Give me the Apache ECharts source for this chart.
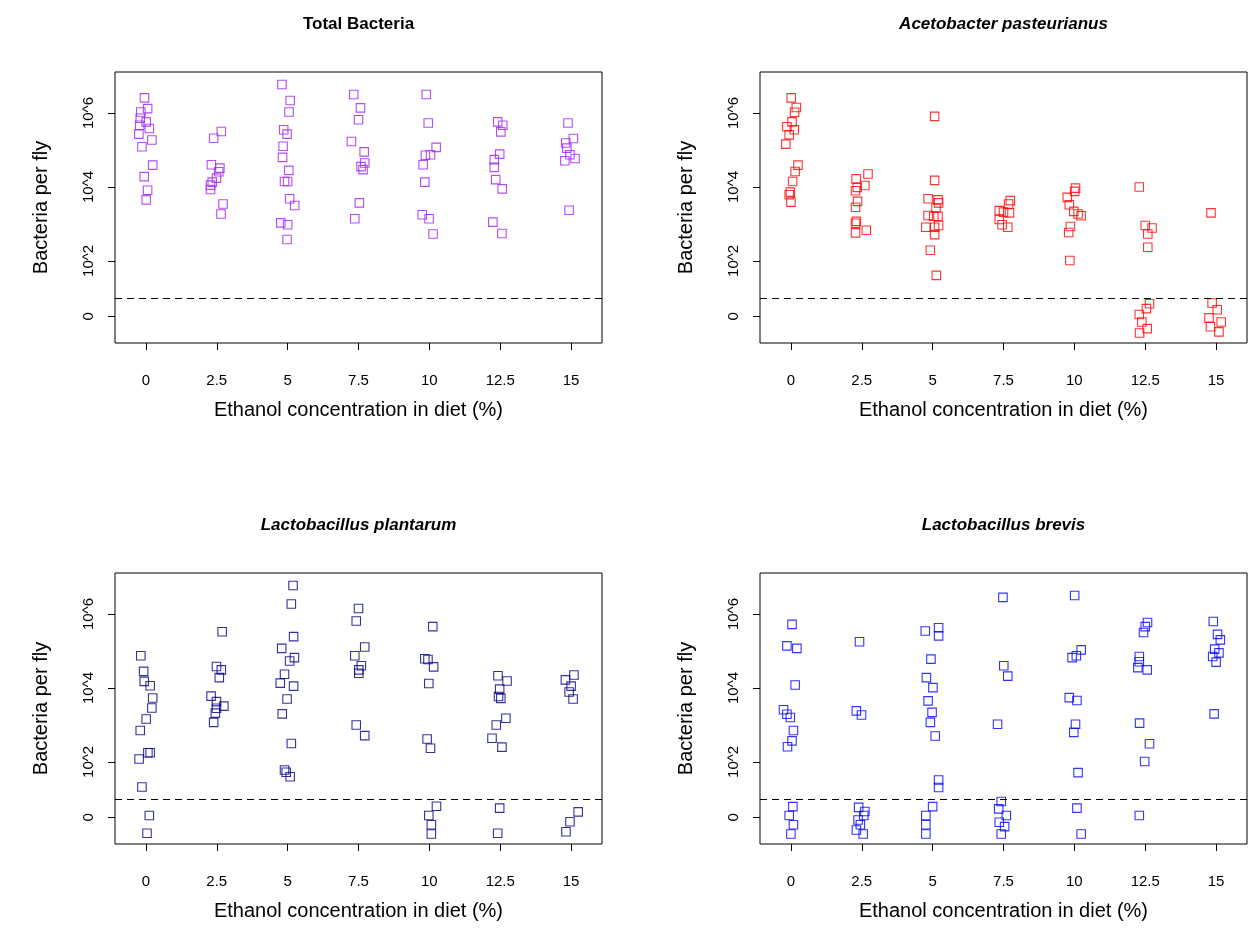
<!DOCTYPE html>
<html>
<head>
<meta charset="utf-8">
<script src="https://cdn.jsdelivr.net/npm/echarts@6/dist/echarts.min.js"></script>
<style>
html,body{margin:0;padding:0;background:#fff;}
#chart{width:1249px;height:944px;}
</style>
</head>
<body>
<div id="chart"></div>
<script>
// ---- Data (x = jittered ethanol %, y = log10 bacteria per fly; zeros plotted near 0.5) ----
const panelTitles = ['Total Bacteria', 'Acetobacter pasteurianus', 'Lactobacillus plantarum', 'Lactobacillus brevis'];
const panelColors = ['#A020F0', '#FF0000', '#000080', '#0000FF'];
const xTickValues = [0, 2.5, 5, 7.5, 10, 12.5, 15];
const yTickValues = [0.5, 2, 4, 6];
const yTickLabels = ['0', '10^2', '10^4', '10^6'];
const detectionLimit = 1;
const xAxisTitle = 'Ethanol concentration in diet (%)';
const yAxisTitle = 'Bacteria per fly';

const totalBacteria = [
  [-0.05,6.41],[0.06,6.12],[-0.18,6.03],[-0.2,5.86],[0.01,5.76],[-0.22,5.67],[0.12,5.58],[-0.25,5.43],[0.21,5.27],[-0.14,5.09],[0.24,4.59],[-0.06,4.28],[0.06,3.91],[0.01,3.65],
  [2.66,5.50],[2.39,5.32],[2.31,4.60],[2.61,4.51],[2.57,4.41],[2.49,4.24],[2.34,4.13],[2.28,4.05],[2.28,3.93],[2.72,3.54],[2.65,3.27],
  [4.8,6.77],[5.09,6.34],[5.05,6.03],[4.86,5.55],[4.98,5.43],[4.84,5.10],[4.82,4.80],[5.04,4.45],[4.89,4.15],[5.0,4.15],[5.07,3.68],[5.25,3.50],[4.76,3.03],[5.0,2.98],[4.98,2.58],
  [7.33,6.50],[7.57,6.14],[7.5,5.82],[7.25,5.23],[7.7,4.95],[7.72,4.65],[7.59,4.55],[7.66,4.47],[7.53,3.57],[7.37,3.14],
  [9.89,6.50],[9.96,5.73],[10.24,5.07],[10.04,4.87],[9.86,4.86],[9.78,4.60],[9.84,4.13],[9.75,3.25],[9.99,3.14],[10.13,2.73],
  [12.41,5.76],[12.59,5.67],[12.52,5.49],[12.48,4.89],[12.29,4.74],[12.29,4.53],[12.34,4.20],[12.57,3.95],[12.24,3.05],[12.56,2.74],
  [14.89,5.73],[15.08,5.31],[14.81,5.19],[14.85,5.05],[14.96,4.87],[15.14,4.77],[14.78,4.71],[14.93,3.37]
];
const acetobacter = [
  [0.01,6.41],[0.19,6.15],[0.13,6.02],[0.04,5.76],[-0.14,5.63],[0.12,5.55],[-0.06,5.41],[-0.18,5.16],[0.25,4.59],[0.15,4.42],[0.06,4.15],[-0.02,3.86],[-0.06,3.79],[0,3.59],
  [2.72,4.35],[2.3,4.22],[2.61,4.04],[2.34,3.99],[2.28,3.90],[2.35,3.61],[2.28,3.45],[2.31,3.07],[2.28,3.02],[2.66,2.83],[2.28,2.76],
  [5.07,5.91],[5.07,4.18],[4.84,3.68],[5.19,3.65],[5.21,3.57],[5.12,3.43],[4.84,3.23],[5.04,3.21],[5.19,3.21],[4.76,2.91],[5.07,2.91],[5.21,2.96],[5.07,2.71],[4.92,2.29],[5.13,1.61],
  [7.74,3.63],[7.68,3.54],[7.35,3.36],[7.5,3.32],[7.71,3.30],[7.35,3.12],[7.45,2.98],[7.65,2.91],
  [10.04,3.97],[10.01,3.88],[9.75,3.72],[9.82,3.52],[9.98,3.34],[10.13,3.27],[10.24,3.22],[9.86,2.93],[9.8,2.77],[9.84,2.01],
  [12.29,4.00],[12.5,2.96],[12.74,2.89],[12.59,2.73],[12.59,2.37],[12.65,0.84],[12.54,0.71],[12.29,0.55],[12.38,0.35],[12.57,0.17],[12.3,0.05],
  [14.82,3.30],[14.86,0.86],[15.04,0.68],[14.75,0.46],[15.18,0.35],[14.8,0.22],[15.1,0.08]
];
const plantarum = [
  [-0.18,4.87],[-0.08,4.45],[-0.06,4.18],[0.15,4.06],[0.24,3.73],[0.21,3.46],[0.01,3.16],[-0.2,2.85],[0.07,2.25],[0.15,2.25],[-0.24,2.08],[-0.14,1.32],[0.12,0.55],[0.04,0.07],
  [2.69,5.52],[2.49,4.58],[2.66,4.49],[2.59,4.28],[2.3,3.78],[2.49,3.63],[2.75,3.51],[2.49,3.45],[2.45,3.32],[2.39,3.07],
  [5.19,6.77],[5.13,6.27],[5.21,5.39],[4.79,5.07],[5.24,4.82],[5.07,4.73],[4.89,4.37],[4.74,4.13],[5.21,4.05],[4.98,3.70],[4.81,3.30],[5.13,2.50],[4.89,1.78],[4.95,1.72],[5.09,1.60],
  [7.5,6.15],[7.42,5.81],[7.72,5.11],[7.37,4.87],[7.6,4.60],[7.51,4.49],[7.51,4.40],[7.42,3.00],[7.72,2.71],
  [10.12,5.66],[9.84,4.79],[9.95,4.77],[10.15,4.57],[9.98,4.12],[9.92,2.62],[10.04,2.37],[10.25,0.80],[9.98,0.55],[10.07,0.30],[10.07,0.05],
  [12.42,4.33],[12.74,4.19],[12.48,3.97],[12.44,3.77],[12.52,3.72],[12.7,3.18],[12.36,3.00],[12.21,2.64],[12.56,2.40],[12.48,0.75],[12.41,0.07],
  [15.1,4.35],[14.8,4.22],[15.0,4.05],[14.93,3.89],[15.07,3.70],[15.25,0.65],[14.96,0.38],[14.82,0.11]
];
const brevis = [
  [0.04,5.72],[-0.14,5.14],[0.21,5.07],[0.15,4.08],[-0.26,3.41],[-0.14,3.29],[-0.02,3.20],[0.09,2.85],[0.04,2.57],[-0.12,2.41],[0.07,0.79],[-0.06,0.55],[0.09,0.30],[0,0.05],
  [2.42,5.25],[2.31,3.38],[2.49,3.27],[2.39,0.77],[2.61,0.66],[2.57,0.55],[2.37,0.43],[2.45,0.30],[2.31,0.16],[2.55,0.05],
  [4.74,5.54],[5.21,5.63],[5.21,5.41],[4.94,4.78],[4.78,4.28],[5.01,4.01],[4.84,3.65],[4.98,3.34],[4.92,3.07],[5.09,2.70],[5.21,1.51],[5.21,1.31],[5.0,0.79],[4.76,0.55],[4.76,0.30],[4.76,0.05],
  [7.48,6.45],[7.51,4.60],[7.65,4.32],[7.29,3.02],[7.42,0.93],[7.33,0.73],[7.6,0.55],[7.35,0.37],[7.54,0.25],[7.42,0.05],
  [10.01,6.50],[10.24,5.03],[10.07,4.87],[9.92,4.82],[9.82,3.74],[10.09,3.66],[10.04,3.02],[9.98,2.80],[10.13,1.71],[10.09,0.75],[10.24,0.05],
  [12.58,5.77],[12.5,5.66],[12.44,5.50],[12.29,4.85],[12.29,4.71],[12.24,4.55],[12.57,4.49],[12.3,3.05],[12.65,2.49],[12.48,2.01],[12.29,0.55],
  [14.9,5.8],[15.05,5.45],[15.15,5.3],[14.95,5.05],[15.1,4.95],[14.88,4.85],[15.0,4.7],[14.93,3.3]
];
const panelData = [totalBacteria, acetobacter, plantarum, brevis];

// ---- Layout ----
const FONT = '"Liberation Sans", Arial, Helvetica, sans-serif';
const gridLefts = [115, 760, 115, 760];
const gridTops = [72, 72, 573, 573];
const GW = 487, GH = 271;

const chart = echarts.init(document.getElementById('chart'), null, {renderer: 'canvas'});

const grids = [], xAxes = [], yAxes = [], series = [], graphics = [];
for (let i = 0; i < 4; i++) {
  grids.push({left: gridLefts[i], top: gridTops[i], width: GW, height: GH, show: true,
    borderColor: '#000', borderWidth: 1, backgroundColor: 'transparent'});
  xAxes.push({
    type: 'value', gridIndex: i, min: -1.09, max: 16.09, position: 'bottom',
    splitLine: {show: false}, axisLine: {show: false, onZero: false},
    axisTick: {show: true, inside: false, length: 7, customValues: xTickValues, lineStyle: {color: '#000', width: 1}},
    axisLabel: {customValues: xTickValues, margin: 30, fontSize: 15, color: '#000', fontFamily: FONT},
    name: xAxisTitle, nameLocation: 'middle', nameGap: 57,
    nameTextStyle: {fontSize: 20, color: '#000', fontFamily: FONT}
  });
  yAxes.push({
    type: 'value', gridIndex: i, min: -0.22, max: 7.11, position: 'left',
    splitLine: {show: false}, axisLine: {show: false, onZero: false},
    axisTick: {show: true, inside: false, length: 7, customValues: yTickValues, lineStyle: {color: '#000', width: 1}},
    axisLabel: {customValues: yTickValues, rotate: 90, margin: 19, fontSize: 15, color: '#000', fontFamily: FONT,
      formatter: function (v) {
        for (let k = 0; k < yTickValues.length; k++) if (Math.abs(yTickValues[k] - v) < 1e-6) return yTickLabels[k];
        return '';
      }},
    name: yAxisTitle, nameLocation: 'middle', nameGap: 64,
    nameTextStyle: {fontSize: 20, color: '#000', fontFamily: FONT}
  });
  series.push({
    type: 'scatter', xAxisIndex: i, yAxisIndex: i, data: panelData[i],
    symbol: 'rect', symbolSize: 8.5,
    itemStyle: {color: 'rgba(255,255,255,0)', borderColor: panelColors[i], borderWidth: 1.1},
    markLine: {
      silent: true, symbol: ['none', 'none'], label: {show: false},
      lineStyle: {type: [7, 5], color: '#000', width: 1},
      data: [{yAxis: detectionLimit}]
    }
  });
  graphics.push({
    type: 'text', x: gridLefts[i] + GW / 2, y: gridTops[i] - 48,
    style: {text: panelTitles[i], textAlign: 'center', textVerticalAlign: 'middle',
      font: (i === 0 ? '' : 'italic ') + 'bold 17px ' + FONT, fill: '#000'}
  });
}

chart.setOption({
  animation: false,
  backgroundColor: '#fff',
  grid: grids, xAxis: xAxes, yAxis: yAxes, series: series, graphic: graphics
});
</script>
</body>
</html>
